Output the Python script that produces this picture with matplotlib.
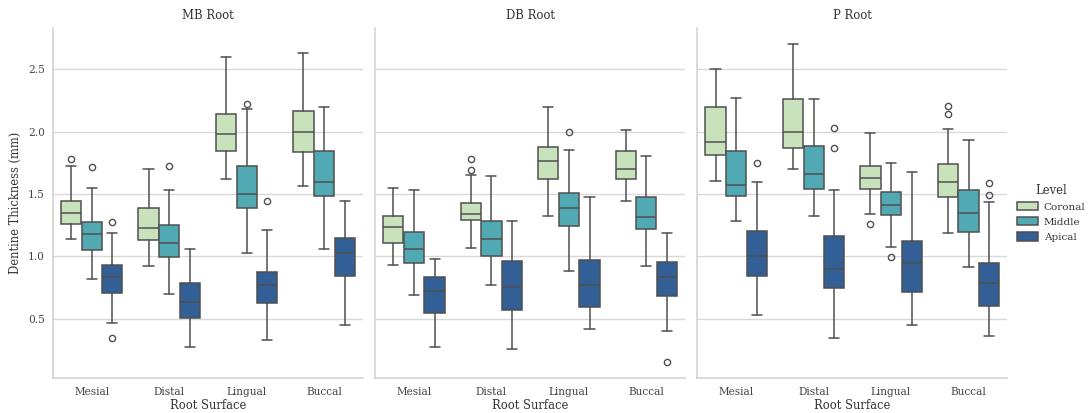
import matplotlib
matplotlib.use('Agg')
import matplotlib.pyplot as plt
import seaborn as sns
from matplotlib.patches import Patch

roots = ['MB Root', 'DB Root', 'P Root']
surfaces = ['Mesial', 'Distal', 'Lingual', 'Buccal']
levels = ['Coronal', 'Middle', 'Apical']

# statistics indexed [root][surface][level]
whislo = [
    [[1.14, 0.82, 0.465], [0.92, 0.695, 0.273], [1.62, 1.03, 0.327], [1.56, 1.055, 0.449]],
    [[0.93, 0.69, 0.271], [1.07, 0.767, 0.255], [1.32, 0.885, 0.417], [1.44, 0.919, 0.399]],
    [[1.607, 1.284, 0.529], [1.70, 1.321, 0.345], [1.337, 1.071, 0.449], [1.188, 0.913, 0.356]],
]
q1 = [
    [[1.255, 1.047, 0.708], [1.127, 0.991, 0.508], [1.841, 1.391, 0.625], [1.833, 1.484, 0.844]],
    [[1.108, 0.948, 0.545], [1.287, 1.004, 0.569], [1.62, 1.241, 0.591], [1.62, 1.217, 0.681]],
    [[1.809, 1.481, 0.839], [1.868, 1.537, 0.743], [1.537, 1.335, 0.716], [1.476, 1.196, 0.599]],
]
med = [
    [[1.348, 1.177, 0.831], [1.228, 1.105, 0.633], [1.983, 1.50, 0.767], [2.001, 1.596, 1.028]],
    [[1.236, 1.06, 0.721], [1.34, 1.135, 0.756], [1.764, 1.385, 0.769], [1.697, 1.311, 0.836]],
    [[1.921, 1.569, 1.001], [2.001, 1.66, 0.895], [1.628, 1.415, 0.948], [1.596, 1.348, 0.785]],
]
q3 = [
    [[1.447, 1.271, 0.927], [1.388, 1.249, 0.783], [2.145, 1.721, 0.876], [2.169, 1.844, 1.143]],
    [[1.327, 1.191, 0.836], [1.431, 1.281, 0.961], [1.876, 1.508, 0.972], [1.844, 1.473, 0.951]],
    [[2.196, 1.841, 1.201], [2.26, 1.889, 1.164], [1.724, 1.519, 1.119], [1.737, 1.532, 0.945]],
]
whishi = [
    [[1.727, 1.551, 1.183], [1.697, 1.529, 1.06], [2.599, 2.183, 1.212], [2.633, 2.199, 1.441]],
    [[1.548, 1.535, 0.975], [1.649, 1.647, 1.284], [2.201, 1.849, 1.479], [2.015, 1.801, 1.188]],
    [[2.50, 2.273, 1.596], [2.70, 2.26, 1.529], [1.988, 1.751, 1.679], [2.023, 1.937, 1.436]],
]
fliers = [
    [[[1.78], [1.716], [1.271, 0.34]], [[], [1.721], []], [[], [2.223], [1.447]], [[], [], []]],
    [[[], [], []], [[1.777, 1.695], [], []], [[], [1.999], []], [[], [], [0.151]]],
    [[[], [], [1.745]], [[], [], [2.028, 1.871]], [[1.26], [0.991], []], [[2.209, 2.143], [], [1.585, 1.489]]],
]

sns.set_theme(style='whitegrid')
plt.rcParams['font.family'] = ['DejaVu Serif']
plt.rcParams['axes.edgecolor'] = '#d0d0d0'
plt.rcParams['grid.color'] = '#d8d8d8'

pal = [sns.desaturate(c, 0.75) for c in sns.color_palette('YlGnBu', 3)]
line_c = '#505050'

fig, axes = plt.subplots(1, 3, figsize=(10.9, 4.13), dpi=100, sharey=True)
fig.subplots_adjust(left=0.0486, right=0.9241, bottom=0.084, top=0.9315, wspace=0.04)

bw = 0.8 / 3
for r, ax in enumerate(axes):
    for s in range(len(surfaces)):
        for l in range(len(levels)):
            st = dict(whislo=whislo[r][s][l], q1=q1[r][s][l], med=med[r][s][l],
                      q3=q3[r][s][l], whishi=whishi[r][s][l], fliers=fliers[r][s][l])
            pos = s + (l - 1) * bw
            ax.bxp([st], positions=[pos], widths=[bw * 0.98], patch_artist=True,
                   showfliers=True, manage_ticks=False,
                   boxprops=dict(facecolor=pal[l], edgecolor=line_c, linewidth=1.1),
                   medianprops=dict(color=line_c, linewidth=1.1),
                   whiskerprops=dict(color=line_c, linewidth=1.1),
                   capprops=dict(color=line_c, linewidth=1.1),
                   flierprops=dict(marker='o', markerfacecolor='none', markeredgecolor=line_c,
                                   markersize=4.5, markeredgewidth=1.0))
    ax.set_xticks(range(len(surfaces)))
    ax.set_xticklabels(surfaces)
    ax.set_xlim(-0.5, 3.5)
    ax.set_title(roots[r], fontsize=8.4, color='#333333', pad=7)
    ax.set_xlabel('Root Surface', fontsize=8.3, color='#333333', labelpad=2)
    ax.tick_params(axis='both', labelsize=7.6, colors='#444444', length=0, pad=6)
    ax.grid(axis='x', visible=False)
    ax.grid(axis='y', visible=True, linewidth=1.0)
    for side in ['top', 'right']:
        ax.spines[side].set_visible(False)
    for side in ['left', 'bottom']:
        ax.spines[side].set_color('#d0d0d0')
        ax.spines[side].set_linewidth(1.1)

axes[0].set_ylabel('Dentine Thickness (mm)', fontsize=8.3, color='#333333')
axes[0].set_yticks([0.5, 1.0, 1.5, 2.0, 2.5])
axes[0].set_ylim(0.02, 2.83)

handles = [Patch(facecolor=pal[i], edgecolor=line_c, linewidth=1.1, label=levels[i]) for i in range(3)]
leg = fig.legend(handles=handles, title='Level', loc='center left', bbox_to_anchor=(0.927, 0.485),
                 frameon=False, fontsize=7.5, title_fontsize=8.3, handlelength=2.0,
                 handleheight=0.9, labelspacing=0.5, handletextpad=0.6, borderaxespad=0.2)
for t in leg.get_texts():
    t.set_color('#333333')
leg.get_title().set_color('#333333')

fig.savefig('out.png', dpi=100)
